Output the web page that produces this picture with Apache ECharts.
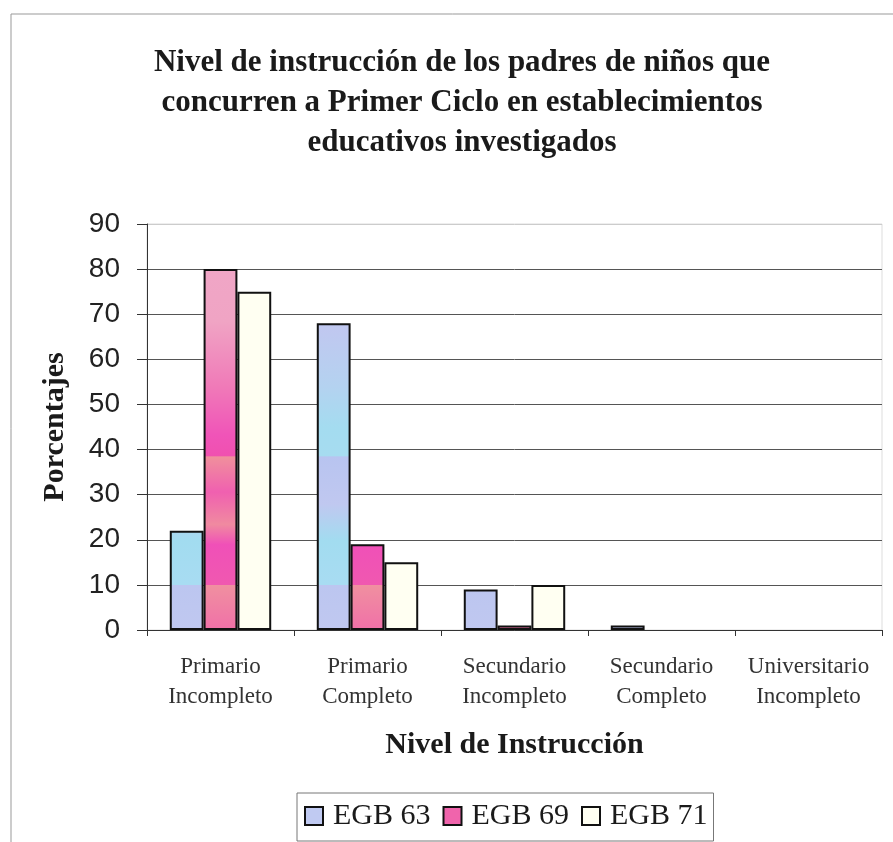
<!DOCTYPE html>
<html>
<head>
<meta charset="utf-8">
<script src="https://cdn.jsdelivr.net/npm/echarts@6/dist/echarts.min.js"></script>
<style>
html,body{margin:0;padding:0;background:#fff;}
#c{width:893px;height:842px;}
</style>
</head>
<body>
<div id="c"></div>
<script>
const categories = ['Primario\nIncompleto', 'Primario\nCompleto', 'Secundario\nIncompleto', 'Secundario\nCompleto', 'Universitario\nIncompleto'];
const seriesNames = ['EGB 63', 'EGB 69', 'EGB 71'];
const egb63 = [22, 68, 9, 1, 0];
const egb69 = [80, 19, 1, 0, 0];
const egb71 = [75, 15, 10, 0, 0];
const yTicks = [0, 90, 10];

const chart = echarts.init(document.getElementById('c'));

const G = echarts.graphic.LinearGradient;
const blueFill = new G(0, 224, 0, 630, [
  {offset: 0, color: '#c4c8f2'},
  {offset: 0.26, color: '#c0c8f0'},
  {offset: 0.40, color: '#b4d2f0'},
  {offset: 0.50, color: '#a4dcf0'},
  {offset: 0.572, color: '#a6dcf0'},
  {offset: 0.573, color: '#b8c4f0'},
  {offset: 0.69, color: '#c0c8f0'},
  {offset: 0.78, color: '#a2dcf0'},
  {offset: 0.888, color: '#a8dcf2'},
  {offset: 0.889, color: '#bcc6f0'},
  {offset: 1, color: '#c0c8f0'}
], true);
const pinkFill = new G(0, 224, 0, 630, [
  {offset: 0, color: '#f0a8c8'},
  {offset: 0.24, color: '#f0a4c4'},
  {offset: 0.40, color: '#f07ab8'},
  {offset: 0.52, color: '#f054b8'},
  {offset: 0.572, color: '#f050b0'},
  {offset: 0.573, color: '#f0909c'},
  {offset: 0.66, color: '#f060b0'},
  {offset: 0.74, color: '#f08aa0'},
  {offset: 0.79, color: '#f050b8'},
  {offset: 0.888, color: '#f058b0'},
  {offset: 0.889, color: '#f090a0'},
  {offset: 1, color: '#f070a8'}
], true);
const whiteFill = '#fffff2';
const legendColors = ['#c0caf2', '#f064ac', '#fffff2'];

const serif = '"Liberation Serif", "DejaVu Serif", serif';

function mk(name, data, fill) {
  return {
    name: name,
    type: 'bar',
    data: data.map(v => v === 0 ? {value: v, itemStyle: {borderWidth: 0}} : v),
    barGap: '0%',
    barCategoryGap: '31%',
    itemStyle: {color: fill, borderColor: '#111', borderWidth: 2},
    emphasis: {disabled: true}
  };
}

chart.setOption({
  animation: false,
  backgroundColor: '#fff',
  title: {
    text: 'Nivel de instrucción de los padres de niños que\nconcurren a Primer Ciclo en establecimientos\neducativos investigados',
    left: 457,
    textAlign: 'center',
    top: 38,
    textStyle: {fontFamily: serif, fontWeight: 'bold', fontSize: 31, lineHeight: 40, color: '#1a1a1a'}
  },
  legend: {
    data: seriesNames.map((n, i) => ({name: n, itemStyle: {color: legendColors[i], borderColor: '#111', borderWidth: 2}})),
    left: 297,
    top: 793,
    width: 434,
    padding: [8, 6, 10, 7],
    itemGap: 12,
    itemWidth: 18,
    itemHeight: 18,
    borderColor: '#777',
    borderWidth: 1,
    icon: 'rect',
    textStyle: {fontFamily: serif, fontSize: 30, color: '#1a1a1a', padding: [0, 0, 0, 5]}
  },
  grid: {
    left: 147, right: 11, top: 224, bottom: 212,
    show: true, borderColor: '#ddd', borderWidth: 1
  },
  xAxis: {
    type: 'category',
    data: categories,
    name: 'Nivel de Instrucción',
    nameLocation: 'middle',
    nameGap: 100,
    nameTextStyle: {fontFamily: serif, fontWeight: 'bold', fontSize: 30, color: '#1a1a1a'},
    axisLine: {lineStyle: {color: '#333', width: 1}},
    axisTick: {show: true, length: 6, lineStyle: {color: '#333'}},
    axisLabel: {interval: 0, fontFamily: serif, fontSize: 23, lineHeight: 30, color: '#333', margin: 22}
  },
  yAxis: {
    type: 'value',
    min: yTicks[0], max: yTicks[1], interval: yTicks[2],
    name: 'Porcentajes',
    nameLocation: 'middle',
    nameGap: 77,
    nameTextStyle: {fontFamily: serif, fontWeight: 'bold', fontSize: 30, color: '#1a1a1a'},
    axisLine: {show: true, lineStyle: {color: '#333', width: 1}},
    axisTick: {show: true, length: 10, lineStyle: {color: '#333'}},
    axisLabel: {fontFamily: '"Liberation Sans", Arial, sans-serif', fontSize: 28, color: '#222', margin: 27},
    splitLine: {show: true, lineStyle: {color: ['#555','#555','#555','#555','#555','#555','#555','#555','#555','#ccc'], width: 1}}
  },
  graphic: [{
    type: 'rect',
    shape: {x: 11, y: 14, width: 900, height: 900},
    style: {fill: null, stroke: '#999', lineWidth: 1},
    silent: true,
    z: -1
  }],
  series: [
    mk(seriesNames[0], egb63, blueFill),
    mk(seriesNames[1], egb69, pinkFill),
    mk(seriesNames[2], egb71, whiteFill)
  ]
});
</script>
</body>
</html>
